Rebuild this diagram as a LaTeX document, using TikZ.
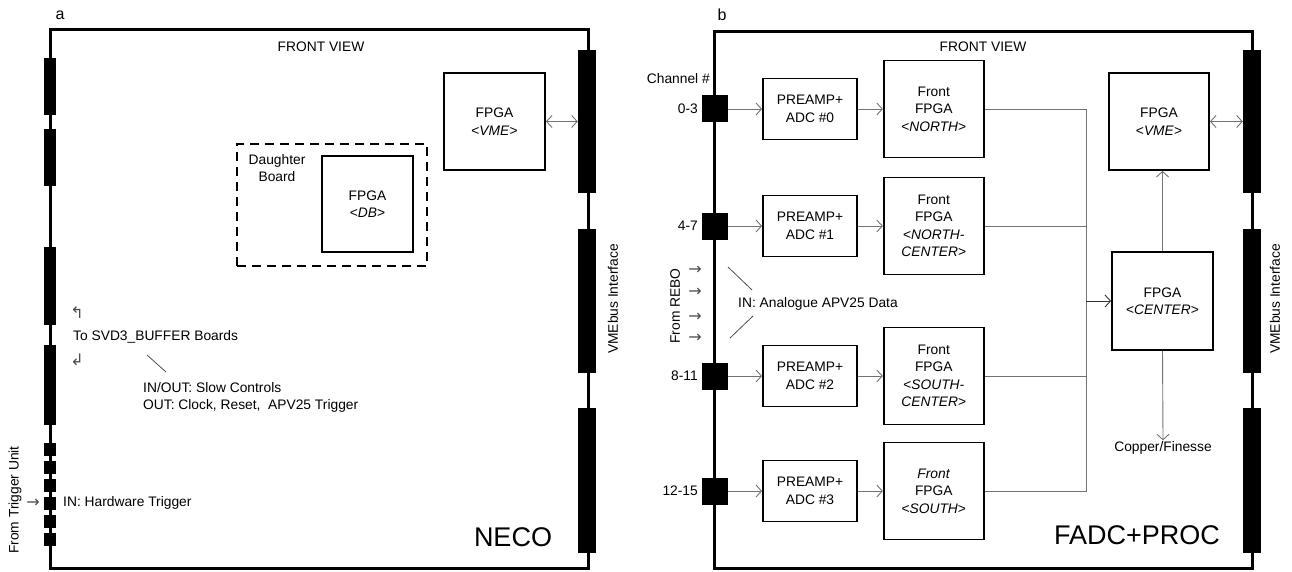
\documentclass[tikz,border=0pt]{standalone}
\usepackage{fontspec}
\setmainfont{Liberation Sans}
\newfontfamily\symbfont{DejaVu Sans}
\usetikzlibrary{arrows.meta, positioning, calc}

\begin{document}
\begin{tikzpicture}[x=1pt, y=-1pt,
  txt/.style={font=\fontsize{13.8}{17.5}\selectfont, inner sep=1pt},
  sym/.style={font={\symbfont\fontsize{16}{18}\selectfont}, text=black!70, inner sep=0pt},
  tag/.style={font=\fontsize{16}{18}\selectfont, inner sep=0pt},
  big/.style={font=\fontsize{27}{30}\selectfont, inner sep=0pt},
  box/.style={rectangle, draw, line width=1.8pt, align=center, font=\fontsize{13.8}{17.5}\selectfont, inner sep=0pt},
  pin/.style={rectangle, fill=black, inner sep=0pt},
  bus/.style={rectangle, fill=black, inner sep=0pt, minimum width=18pt},
  board/.style={draw, line width=3pt},
  wire/.style={draw=black!55, line width=0.9pt},
  lead/.style={draw=black!70, line width=0.8pt},
  link/.style={->, >={Straight Barb[length=5.5pt, width=12pt]}, draw=black!55, line width=0.9pt},
  dlink/.style={<->, >={Straight Barb[length=5.5pt, width=12pt]}, draw=black!55, line width=0.9pt}
]
  \useasboundingbox (0,0) rectangle (1292,572);

  % boards
  \draw[board] (50,30) rectangle (588,568);
  \draw[board] (714,32) rectangle (1252,568);
  \node[tag] (labA) at (60,15) {a};
  \node[tag] (labB) at (722,15) {b};
  \node[txt] (frontA) at (321,47) {FRONT VIEW};
  \node[txt] (frontB) at (983,47) {FRONT VIEW};

  % VMEbus connectors
  \foreach \y/\h [count=\k] in {121.5/143, 301/144, 480.5/145}{
    \node[bus, minimum height=\h pt] (busA\k) at (587,\y) {};
    \node[bus, minimum height=\h pt] (busB\k) at (1252,\y) {};
  }
  \node[txt, rotate=90] (vmeIfA) at (613,299) {VMEbus Interface};
  \node[txt, rotate=90] (vmeIfB) at (1275,299) {VMEbus Interface};

  % NECO front panel
  \node[pin, minimum width=12pt, minimum height=57pt] (lpA1) at (50,86.5) {};
  \node[pin, minimum width=12pt, minimum height=57pt] (lpA2) at (50,157.5) {};
  \node[pin, minimum width=12pt, minimum height=78pt] (lpA3) at (50,286) {};
  \node[pin, minimum width=12pt, minimum height=80pt] (lpA4) at (50,385) {};
  \foreach \i in {0,...,5}
    \node[pin, minimum width=12pt, minimum height=13pt] (trg\i) at (50,449.5+18*\i) {};

  \node[box, minimum width=101pt, minimum height=97pt] (vmeA) at (494.5,121.5) {FPGA\\<\textit{VME}>};
  \node[box, minimum width=190pt, minimum height=122pt, line width=1.8pt, dash pattern=on 9pt off 6pt] (daughter) at (332,205) {};
  \node[box, minimum width=91pt, minimum height=96pt] (dbA) at (367.5,204) {FPGA\\<\textit{DB}>};
  \node[txt, align=center] (dbLabel) at (277,168) {Daughter\\Board};
  \draw[dlink] (vmeA.east) -- (vmeA.east -| busA1.west);

  \node[sym] (upArr) at (77,313) {↰};
  \node[txt, anchor=west] (toSvd) at (72,337) {To SVD3\_BUFFER Boards};
  \node[sym] (dnArr) at (77,360) {↲};
  \coordinate (ldA1) at (147,355);
  \coordinate (ldA2) at (166,372);
  \draw[lead] (ldA1) -- (ldA2);
  \node[txt, anchor=west, align=left] (slowCtl) at (142,397.5) {IN/OUT: Slow Controls\\OUT: Clock, Reset, \ APV25 Trigger};

  \node[sym] (trgArr) at (33,503) {→};
  \node[txt, anchor=west] (hwTrig) at (62,503) {IN: Hardware Trigger};
  \node[txt, rotate=90] (fromTrg) at (15,500) {From Trigger Unit};
  \node[big] (neco) at (513,537) {NECO};

  % FADC+PROC front panel
  \node[txt, anchor=east] (chan) at (711,79) {Channel \#};
  \foreach \y/\ch/\n in {109/0-3/0, 226/4-7/1, 376/8-11/2, 491/12-15/3}{
    \node[pin, minimum width=26pt, minimum height=27pt] (ch\n) at (715,\y) {};
    \node[txt, anchor=east] (chl\n) at (699,\y) {\ch};
    \node[box, minimum width=94pt, minimum height=61pt] (adc\n) at (810,\y) {PREAMP+\\ADC \#\n};
    \draw[link] (ch\n) -- (adc\n);
  }
  \node[box, minimum width=100pt, minimum height=97pt, right=25pt of adc0] (fnorth) {Front\\FPGA\\<\textit{NORTH}>};
  \node[box, minimum width=100pt, minimum height=97pt, right=25pt of adc1] (fnc) {Front\\FPGA\\<\textit{NORTH-}\\\textit{CENTER}>};
  \node[box, minimum width=100pt, minimum height=97pt, right=25pt of adc2] (fsc) {Front\\FPGA\\<\textit{SOUTH-}\\\textit{CENTER}>};
  \node[box, minimum width=100pt, minimum height=97pt, right=25pt of adc3] (fsouth) {\textit{Front}\\FPGA\\<\textit{SOUTH}>};
  \foreach \a/\f in {0/fnorth, 1/fnc, 2/fsc, 3/fsouth}
    \draw[link] (adc\a) -- (\f);

  \node[box, minimum width=100pt, minimum height=97pt] (vmeB) at (1159,121.5) {FPGA\\<\textit{VME}>};
  \node[box, minimum width=101pt, minimum height=98pt] (center) at (1162.5,301) {FPGA\\<\textit{CENTER}>};
  \node[txt] (copper) at (1163,448) {Copper/Finesse};
  \coordinate (merge) at (1086,301);
  \draw[wire] (fnorth.east) -| (merge) |- (fsouth.east);
  \draw[wire] (fnc.east) -- (fnc.east -| merge);
  \draw[wire] (fsc.east) -- (fsc.east -| merge);
  \draw[link, draw=black!80] (merge) -- (center);
  \draw[link] (center.north) -- (center.north |- vmeB.south);
  \draw[link] (center.south) -- (copper.north);
  \draw[dlink] (vmeB.east) -- (vmeB.east -| busB1.west);

  \foreach \y [count=\k] in {270, 292, 317, 338}
    \node[sym] (rebo\k) at (695,\y) {→};
  \node[txt, rotate=90] (fromRebo) at (675,306) {From REBO};
  \coordinate (ldB1) at (728,267);
  \coordinate (ldB2) at (752,290);
  \coordinate (ldB3) at (730,338);
  \coordinate (ldB4) at (753,316);
  \draw[lead] (ldB1) -- (ldB2);
  \draw[lead] (ldB3) -- (ldB4);
  \node[txt, anchor=west] (apvData) at (737,304) {IN: Analogue APV25 Data};
  \node[big] (fadc) at (1137,535) {FADC+PROC};
\end{tikzpicture}
\end{document}
